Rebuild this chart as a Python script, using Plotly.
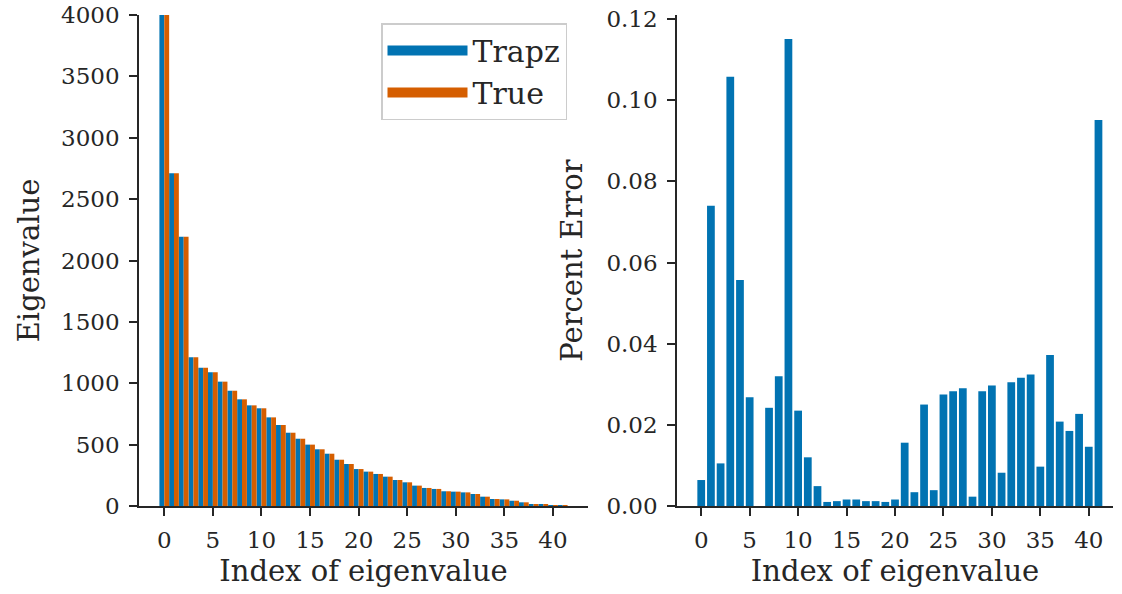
import plotly.graph_objects as go

# ---- data ----
index = list(range(42))
trapz_eig = [4400, 2710, 2194, 1211, 1127, 1089, 1013, 939, 869, 820,
             796, 722, 660, 597, 548, 500, 462, 426, 377, 342,
             301, 280, 261, 239, 212, 193, 166, 147, 139, 120,
             117, 111, 98, 76, 57, 54, 43, 30, 16, 11, 8, 5]
true_eig = [4400, 2710, 2194, 1211, 1127, 1089, 1013, 939, 869, 820,
            796, 722, 660, 597, 548, 500, 462, 426, 377, 342,
            301, 280, 261, 239, 212, 193, 166, 147, 139, 120,
            117, 111, 98, 76, 57, 54, 43, 30, 16, 11, 8, 5]
pct_error = [0.0064, 0.0740, 0.0105, 0.1058, 0.0557, 0.0268, 0.0, 0.0242, 0.0320, 0.1151,
             0.0235, 0.0120, 0.0049, 0.0010, 0.0012, 0.0016, 0.0016, 0.0012, 0.0012, 0.0010,
             0.0016, 0.0156, 0.0034, 0.0250, 0.0039, 0.0275, 0.0283, 0.0290, 0.0023, 0.0283,
             0.0297, 0.0082, 0.0305, 0.0316, 0.0324, 0.0097, 0.0372, 0.0208, 0.0185, 0.0227,
             0.0146, 0.0951]
x_ticks = [0, 5, 10, 15, 20, 25, 30, 35, 40]

BLUE = "#0173B2"
ORANGE = "#D55E00"
FONT = "DejaVu Serif"
AX = "#262626"

fig = go.Figure()
fig.add_trace(go.Bar(x=index, y=trapz_eig, name="Trapz", marker_color=BLUE,
                     marker_line_width=0, width=0.5, offset=-0.5, showlegend=False,
                     xaxis="x", yaxis="y"))
fig.add_trace(go.Bar(x=index, y=true_eig, name="True", marker_color=ORANGE,
                     marker_line_width=0, width=0.5, offset=0, showlegend=False,
                     xaxis="x", yaxis="y"))
# legend entries drawn as wide patches
fig.add_trace(go.Scatter(x=[None], y=[None], mode="lines", name="Trapz",
                         line=dict(color=BLUE, width=20), xaxis="x", yaxis="y"))
fig.add_trace(go.Scatter(x=[None], y=[None], mode="lines", name="True",
                         line=dict(color=ORANGE, width=20), xaxis="x", yaxis="y"))
fig.add_trace(go.Bar(x=index, y=pct_error, name="Percent Error", marker_color=BLUE,
                     marker_line_width=0, width=0.8, showlegend=False,
                     xaxis="x2", yaxis="y2"))

W, H = 1122, 594
def px_x(a, b):
    return [a / W, b / W]
ydom = [1 - 506 / H, 1 - 15 / H]

axis_common = dict(showline=True, linecolor=AX, linewidth=1.6, ticks="outside",
                   ticklen=8, tickwidth=1.6, tickcolor=AX, showgrid=False,
                   zeroline=False, tickfont=dict(family=FONT, size=23, color=AX),
                   title_font=dict(family=FONT, size=29, color=AX), mirror=False,
                   ticklabelstandoff=5, ticklabeloverflow="allow")

fig.update_layout(
    width=W, height=H, barmode="overlay",
    paper_bgcolor="white", plot_bgcolor="white",
    margin=dict(l=0, r=0, t=0, b=0, autoexpand=False),
    font=dict(family=FONT, color=AX),
    xaxis=dict(domain=px_x(139, 588), range=[-2.6, 43.6], tickvals=x_ticks,
               title=dict(text="Index of eigenvalue", standoff=8), anchor="y",
               **axis_common),
    yaxis=dict(domain=ydom, range=[0, 4000], dtick=500,
               title=dict(text="Eigenvalue", standoff=13), anchor="x",
               **axis_common),
    xaxis2=dict(domain=px_x(677, 1113), range=[-2.5, 42.5], tickvals=x_ticks,
                title=dict(text="Index of eigenvalue", standoff=8), anchor="y2",
                **axis_common),
    yaxis2=dict(domain=ydom, range=[0, 0.121], dtick=0.02, tickformat=".2f",
                title=dict(text="Percent Error", standoff=15), anchor="x2",
                **axis_common),
    legend=dict(x=381 / W, y=1 - 23 / H, xanchor="left", yanchor="top",
                bgcolor="white", bordercolor="#cccccc", borderwidth=1.5,
                font=dict(family=FONT, size=30, color=AX),
                itemwidth=80, tracegroupgap=2),
)

fig.write_html("out.html", config={"displayModeBar": False},
               post_script="document.body.style.margin='0px';")
